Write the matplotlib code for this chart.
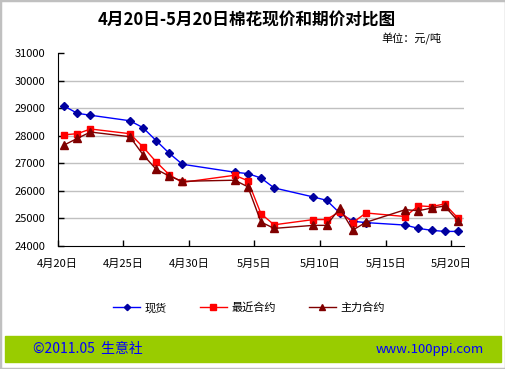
import matplotlib
matplotlib.use("Agg")
import matplotlib.pyplot as plt
from matplotlib.patches import Rectangle
import pandas as pd

plt.rcParams['font.family'] = ['Noto Sans CJK SC', 'DejaVu Sans']

# Data
dates = ["2011-04-20", "2011-04-21", "2011-04-22", "2011-04-25", "2011-04-26",
         "2011-04-27", "2011-04-28", "2011-04-29", "2011-05-03", "2011-05-04",
         "2011-05-05", "2011-05-06", "2011-05-09", "2011-05-10", "2011-05-11",
         "2011-05-12", "2011-05-13", "2011-05-16", "2011-05-17", "2011-05-18",
         "2011-05-19", "2011-05-20"]
spot = [29080, 28820, 28750, 28550, 28300, 27830, 27370, 26970, 26680, 26630,
        26470, 26110, 25780, 25660, 25200, 24900, 24850, 24760, 24640, 24570,
        24530, 24530]
nearest = [28040, 28080, 28250, 28080, 27600, 27060, 26590, 26310, 26570, 26370,
           25170, 24770, 24960, 24960, 25250, 24850, 25200, 25070, 25460, 25430,
           25530, 25020]
main = [27670, 27910, 28140, 27970, 27320, 26790, 26540, 26350, 26390, 26150,
        24870, 24640, 24750, 24750, 25370, 24580, 24860, 25320, 25280, 25380,
        25450, 24920]
tick_dates = ["2011-04-20", "2011-04-25", "2011-04-30", "2011-05-05",
              "2011-05-10", "2011-05-15", "2011-05-20"]
tick_labels = ["4月20日", "4月25日", "4月30日", "5月5日", "5月10日", "5月15日", "5月20日"]
series_names = ["现货", "最近合约", "主力合约"]

# points sit in the middle of each day slot
x = pd.to_datetime(dates) + pd.Timedelta(hours=12)

fig = plt.figure(figsize=(5.06, 3.69), dpi=100)
ax = fig.add_axes([57.7 / 506, 1 - 246 / 369, (464.3 - 57.7) / 506, (246 - 53.3) / 369])

ax.plot(x, spot, color='#0000ff', lw=1, marker='D', ms=4, mfc='#0000a0', mec='#0000a0',
        label=series_names[0])
ax.plot(x, nearest, color='#ff0000', lw=1, marker='s', ms=5, mfc='#ff0000', mec='#ff0000',
        label=series_names[1])
ax.plot(x, main, color='#800000', lw=1, marker='^', ms=5.5, mfc='#800000', mec='#800000',
        label=series_names[2])

ax.set_xlim(pd.Timestamp("2011-04-20"), pd.Timestamp("2011-05-21"))
ax.set_ylim(24000, 31000)
ax.set_yticks(range(24000, 31001, 1000))
ax.set_xticks(pd.to_datetime(tick_dates))
ax.set_xticklabels(tick_labels)
ax.tick_params(direction='in', length=4, width=1, labelsize=8, color='black')
ax.tick_params(axis='x', pad=9)
ax.tick_params(axis='y', pad=9)

for v in range(25000, 31000, 1000):
    ax.axhline(v, color='#c0c0c0', lw=1, zorder=0)
ax.spines['top'].set_visible(False)
ax.spines['right'].set_visible(False)

fig.text(247 / 506, 1 - 21 / 369, "4月20日-5月20日棉花现价和期价对比图", ha='center', va='center',
         fontsize=12, fontweight='bold')
fig.text(441 / 506, 1 - 39 / 369, "单位：元/吨", ha='right', va='center', fontsize=8)

fig.legend(loc='center', bbox_to_anchor=(249 / 506, 1 - 308 / 369), ncol=3, frameon=False,
           fontsize=8, handlelength=2.4, columnspacing=3.0, handletextpad=0.4, markerscale=0.8)

fig.patches.append(Rectangle((5 / 506, 1 - 362 / 369), 496 / 506, 26 / 369,
                             transform=fig.transFigure, color='#99cc00', zorder=0))
fig.text(33 / 506, 1 - 349 / 369, "©2011.05  生意社", color='#0000ff', ha='left', va='center',
         fontsize=10)
fig.text(484 / 506, 1 - 349 / 369, "www.100ppi.com", color='#0000ff', ha='right', va='center',
         fontsize=9.5)
fig.patches.append(Rectangle((0, 0), 1, 1, transform=fig.transFigure, fill=False,
                             edgecolor='#c0c0c0', lw=2.5))

fig.savefig("out.png", dpi=100)
